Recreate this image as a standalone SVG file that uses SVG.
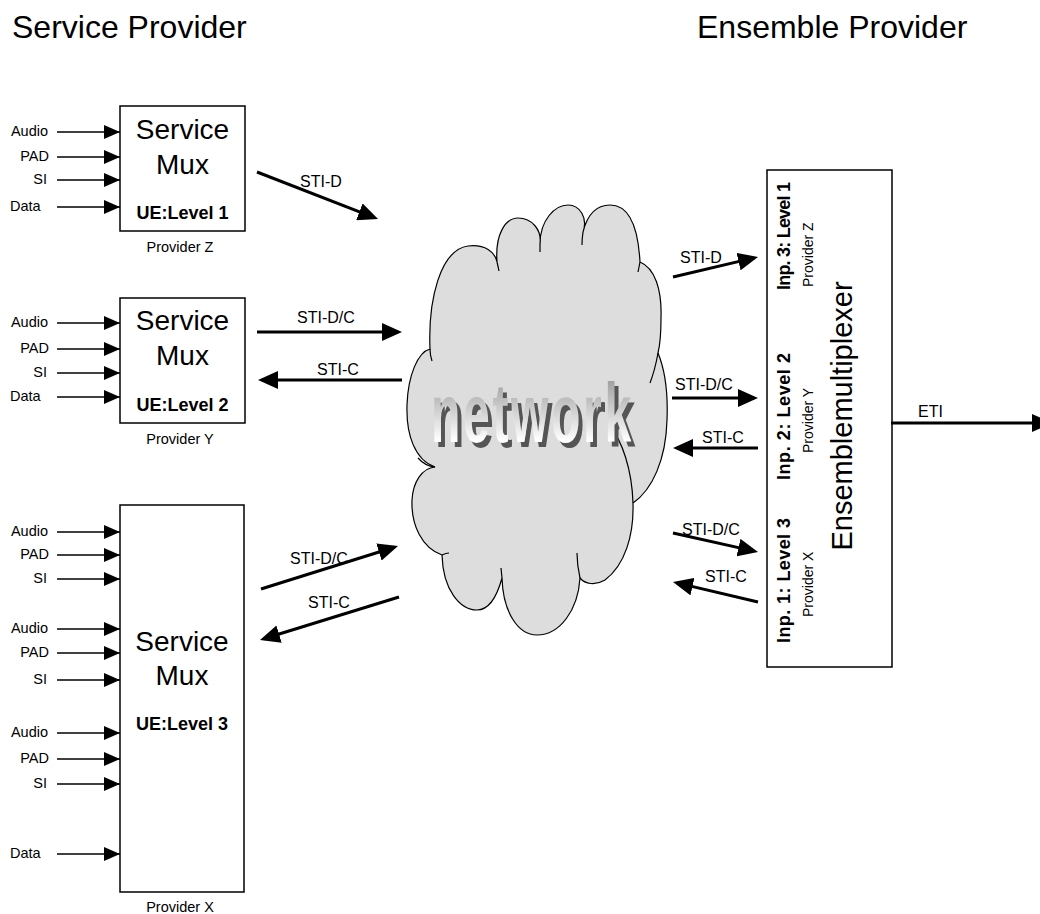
<svg xmlns="http://www.w3.org/2000/svg" width="1040" height="914" viewBox="0 0 1040 914">
<style>
text{font-family:"Liberation Sans",Arial,sans-serif;fill:#000}
.title{font-size:32px}
.svc{font-size:28px;text-anchor:middle}
.ue{font-size:18px;font-weight:bold;text-anchor:middle}
.prov{font-size:14.5px;text-anchor:middle}
.lbl{font-size:14.5px}
.lblr{font-size:14.5px;text-anchor:end}
.sti{font-size:16px}
.inp{font-size:18px;font-weight:bold}
.provr{font-size:14px}
.net{font-size:83px;font-weight:bold;letter-spacing:4.5px;fill:url(#ng)}
.box{fill:#fff;stroke:#000;stroke-width:1.5}
.in{stroke:#000;stroke-width:1.5;fill:none;marker-end:url(#as)}
.st{stroke:#000;stroke-width:3;fill:none;marker-end:url(#al)}
.cl{fill:none;stroke:#000;stroke-width:1.2}
</style>
<defs>
<marker id="as" markerUnits="userSpaceOnUse" markerWidth="16" markerHeight="14" refX="16" refY="7" orient="auto"><path d="M0,0 L16,7 L0,14 z" fill="#000"/></marker>
<marker id="al" markerUnits="userSpaceOnUse" markerWidth="20" markerHeight="18" refX="16" refY="9" orient="auto"><path d="M0,0 L20,9 L0,18 z" fill="#000"/></marker>
<linearGradient id="ng" x1="0" y1="0" x2="0" y2="1">
<stop offset="0" stop-color="#8c8c8c"/><stop offset="0.8" stop-color="#ffffff"/><stop offset="1" stop-color="#ffffff"/>
</linearGradient>
<filter id="sh" x="-10%" y="-20%" width="130%" height="150%" color-interpolation-filters="sRGB">
<feOffset in="SourceAlpha" dx="4" dy="5" result="o"/>
<feFlood flood-color="#555555"/>
<feComposite in2="o" operator="in" result="s"/>
<feMerge><feMergeNode in="s"/><feMergeNode in="SourceGraphic"/></feMerge>
</filter>
</defs>
<rect width="1040" height="914" fill="#fff"/>

<g id="titles">
<text class="title" x="12" y="38">Service Provider</text>
<text class="title" x="697" y="38">Ensemble Provider</text>
</g>

<g id="network">
<path d="M435,467 C415,460 406,435 407,405 C408,375 418,352 430,349 C428,300 440,250 468,246 C485,244 495,252 497,262 C495,235 505,218 518,218 C532,218 542,230 540,244 C540,220 555,205 568,205 C580,205 588,218 583,232 C588,212 598,205 610,205 C628,205 638,225 640,262 C655,268 662,290 661,318 C661,333 660,345 658,353 C665,370 668,395 667,420 C666,460 652,490 633,503 C634,535 625,565 605,580 C595,586 585,584 580,578 C578,610 560,635 537,635 C518,635 503,612 502,578 C496,600 487,610 477,610 C460,610 443,590 442,555 C422,548 411,525 412,500 C413,482 422,468 435,467 Z" fill="#dddddd" stroke="#000" stroke-width="1.2"/>
<path class="cl" d="M430,349 Q430,355 432,361"/>
<path class="cl" d="M497,262 Q498,266 499,271"/>
<path class="cl" d="M540,244 L540,252"/>
<path class="cl" d="M583,232 Q582,239 582,245"/>
<path class="cl" d="M640,262 Q639,267 638,272"/>
<path class="cl" d="M658,353 Q655,370 650,383"/>
<path class="cl" d="M610,427 C622,440 632,470 633,503"/>
<path class="cl" d="M580,578 Q577,565 577,553"/>
<path class="cl" d="M502,578 L501,568"/>
<path class="cl" d="M442,555 Q446,553 449,553"/>
<path class="cl" d="M435,467 Q425,466 418,458"/>
<g filter="url(#sh)">
<text class="net" transform="translate(431,442) scale(0.58,1)">network</text>
</g>
</g>

<g id="provider-z">
<rect class="box" x="120" y="106" width="125" height="125"/>
<text class="svc" x="182.5" y="139">Service</text>
<text class="svc" x="182.5" y="174">Mux</text>
<text class="ue" x="182.5" y="219">UE:Level 1</text>
<text class="prov" x="180" y="252">Provider Z</text>
</g>

<g id="provider-y">
<rect class="box" x="120" y="298" width="125" height="125"/>
<text class="svc" x="182.5" y="330">Service</text>
<text class="svc" x="182.5" y="365">Mux</text>
<text class="ue" x="182.5" y="411">UE:Level 2</text>
<text class="prov" x="180" y="443.5">Provider Y</text>
</g>

<g id="provider-x">
<rect class="box" x="120" y="505" width="124" height="387"/>
<text class="svc" x="182" y="651">Service</text>
<text class="svc" x="182" y="685">Mux</text>
<text class="ue" x="182" y="730">UE:Level 3</text>
<text class="prov" x="180" y="912">Provider X</text>
</g>

<g id="ensemble">
<rect class="box" x="767" y="170" width="125" height="497"/>
<text class="inp" transform="translate(790,290) rotate(-90)" textLength="108">Inp. 3: Level 1</text>
<text class="provr" transform="translate(813,287) rotate(-90)">Provider Z</text>
<text class="inp" transform="translate(790,480) rotate(-90)" textLength="127">Inp. 2: Level 2</text>
<text class="provr" transform="translate(813,453) rotate(-90)">Provider Y</text>
<text class="inp" transform="translate(790,643) rotate(-90)" textLength="125">Inp. 1: Level 3</text>
<text class="provr" transform="translate(813,617) rotate(-90)">Provider X</text>
<text transform="translate(852,416) rotate(-90)" font-size="29" text-anchor="middle">Ensemblemultiplexer</text>
</g>

<g id="connectors">
<g id="inputs">
<text class="lblr" x="48" y="136">Audio</text><line class="in" x1="57" y1="132" x2="120" y2="132"/>
<text class="lblr" x="49" y="161">PAD</text><line class="in" x1="57" y1="157" x2="120" y2="157"/>
<text class="lblr" x="47" y="184">SI</text><line class="in" x1="57" y1="180" x2="120" y2="180"/>
<text class="lbl" x="10" y="211">Data</text><line class="in" x1="57" y1="207" x2="120" y2="207"/>

<text class="lblr" x="48" y="327">Audio</text><line class="in" x1="57" y1="323" x2="120" y2="323"/>
<text class="lblr" x="49" y="353">PAD</text><line class="in" x1="57" y1="349" x2="120" y2="349"/>
<text class="lblr" x="47" y="377">SI</text><line class="in" x1="57" y1="373" x2="120" y2="373"/>
<text class="lbl" x="10" y="401">Data</text><line class="in" x1="57" y1="397" x2="120" y2="397"/>

<text class="lblr" x="48" y="536">Audio</text><line class="in" x1="57" y1="532" x2="120" y2="532"/>
<text class="lblr" x="49" y="559">PAD</text><line class="in" x1="57" y1="555" x2="120" y2="555"/>
<text class="lblr" x="47" y="583">SI</text><line class="in" x1="57" y1="579" x2="120" y2="579"/>
<text class="lblr" x="48" y="633">Audio</text><line class="in" x1="57" y1="629" x2="120" y2="629"/>
<text class="lblr" x="49" y="657">PAD</text><line class="in" x1="57" y1="653" x2="120" y2="653"/>
<text class="lblr" x="47" y="684">SI</text><line class="in" x1="57" y1="680" x2="120" y2="680"/>
<text class="lblr" x="48" y="737">Audio</text><line class="in" x1="57" y1="733" x2="120" y2="733"/>
<text class="lblr" x="49" y="763">PAD</text><line class="in" x1="57" y1="759" x2="120" y2="759"/>
<text class="lblr" x="47" y="788">SI</text><line class="in" x1="57" y1="784" x2="120" y2="784"/>
<text class="lbl" x="10" y="858">Data</text><line class="in" x1="57" y1="854" x2="120" y2="854"/>
</g>

<line class="st" x1="257" y1="172" x2="374.3" y2="217.6"/>
<text class="sti" x="300" y="187">STI-D</text>
<line class="st" x1="257" y1="332" x2="398" y2="332"/>
<text class="sti" x="297" y="323">STI-D/C</text>
<line class="st" x1="402" y1="380" x2="262" y2="380"/>
<text class="sti" x="317" y="375">STI-C</text>
<line class="st" x1="261" y1="589" x2="394.2" y2="547.2"/>
<text class="sti" x="290" y="564">STI-D/C</text>
<line class="st" x1="399" y1="597" x2="263.8" y2="638.8"/>
<text class="sti" x="308" y="608">STI-C</text>

<line class="st" x1="673" y1="277" x2="754.1" y2="257.9"/>
<text class="sti" x="680" y="263">STI-D</text>
<line class="st" x1="672" y1="398" x2="754" y2="398"/>
<text class="sti" x="675" y="390">STI-D/C</text>
<line class="st" x1="758" y1="448" x2="677" y2="448"/>
<text class="sti" x="702" y="443">STI-C</text>
<line class="st" x1="673" y1="533" x2="754.1" y2="551.1"/>
<text class="sti" x="682" y="535">STI-D/C</text>
<line class="st" x1="758" y1="602" x2="676.9" y2="582.9"/>
<text class="sti" x="705" y="582">STI-C</text>

<line class="st" x1="891" y1="423" x2="1048" y2="423"/>
<text class="sti" x="918" y="417">ETI</text>
</g>
</svg>
